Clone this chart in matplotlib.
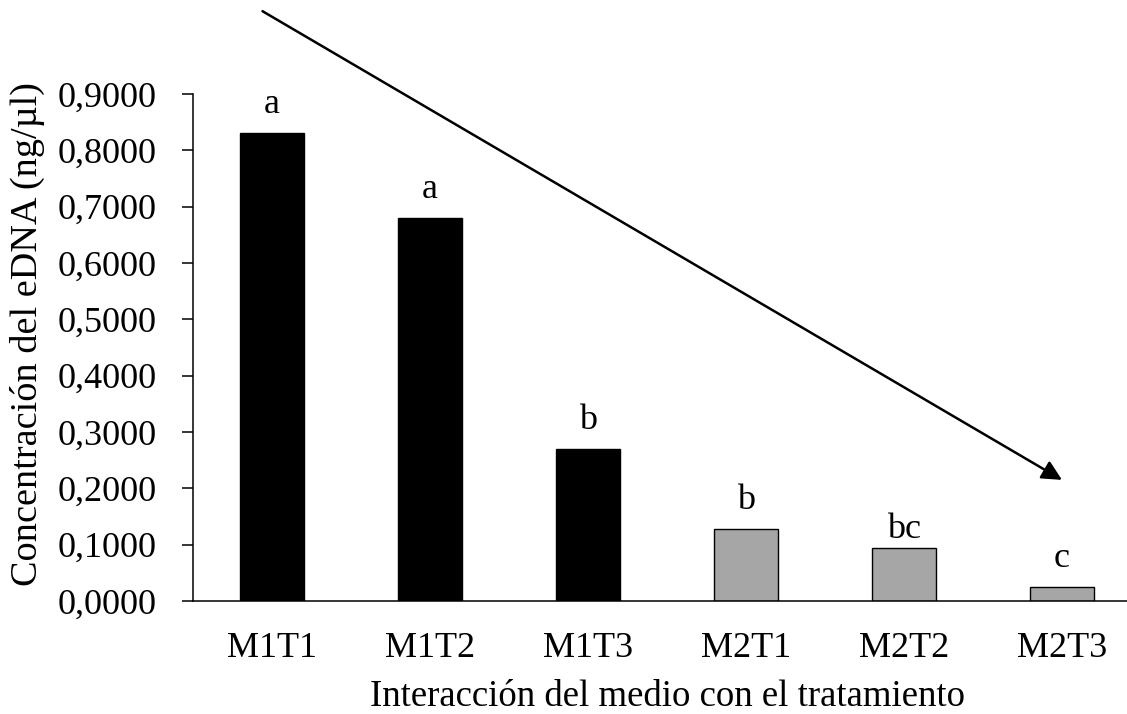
import matplotlib
matplotlib.use("Agg")
import matplotlib.pyplot as plt
from matplotlib.ticker import FuncFormatter

# data
categories = ["M1T1", "M1T2", "M1T3", "M2T1", "M2T2", "M2T3"]
concentration = [0.831, 0.680, 0.270, 0.128, 0.094, 0.025]
letters = ["a", "a", "b", "b", "bc", "c"]
medium = ["M1", "M1", "M1", "M2", "M2", "M2"]

COLORS = {"M1": "black", "M2": "#a6a6a6"}
LETTER_OFFSET = [14, 14, 14, 14, 7, 14]  # points above bar top

plt.rcParams.update({"font.family": ["Liberation Serif", "DejaVu Serif"],
                     "font.size": 26})

fig = plt.figure(figsize=(11.27, 7.14), dpi=100)
W, H = 1127, 714
ax = fig.add_axes([193 / W, 1 - 601 / H, 948 / W, 507 / H])

x = list(range(len(categories)))
ax.bar(x, concentration, width=0.405,
       color=[COLORS[m] for m in medium], edgecolor="black", linewidth=1.0)

for xi, v, lab, off in zip(x, concentration, letters, LETTER_OFFSET):
    ax.annotate(lab, (xi, v), xytext=(0, off), textcoords="offset points",
                ha="center", va="baseline")

ax.set_xlim(-0.5, len(categories) - 0.5)
ax.set_ylim(0, 0.9)
ax.set_yticks([i / 10 for i in range(10)])
ax.yaxis.set_major_formatter(FuncFormatter(lambda v, _: f"{v:.4f}".replace(".", ",")))
ax.set_xticks(x, categories)

for s in ("top", "right"):
    ax.spines[s].set_visible(False)
for s in ("left", "bottom"):
    ax.spines[s].set_linewidth(1.1)
ax.tick_params(axis="y", length=8, width=1.1, pad=18)
ax.tick_params(axis="x", length=0, pad=22)

ax.set_xlabel("Interacción del medio con el tratamiento", fontsize=26.5, labelpad=11)
ax.set_ylabel("Concentración del eDNA (ng/µl)", fontsize=27.5, labelpad=9)
ax.yaxis.label.set_y(0.527)

# trend arrow from the first to the last treatment
ax.annotate("", xy=(len(categories) - 1, 0.215), xytext=(-0.06, 1.047),
            xycoords="data", textcoords="data", annotation_clip=False,
            arrowprops=dict(arrowstyle="-|>", color="black", lw=1.8,
                            mutation_scale=30, shrinkA=0, shrinkB=0))

fig.savefig("out.png", dpi=100)
